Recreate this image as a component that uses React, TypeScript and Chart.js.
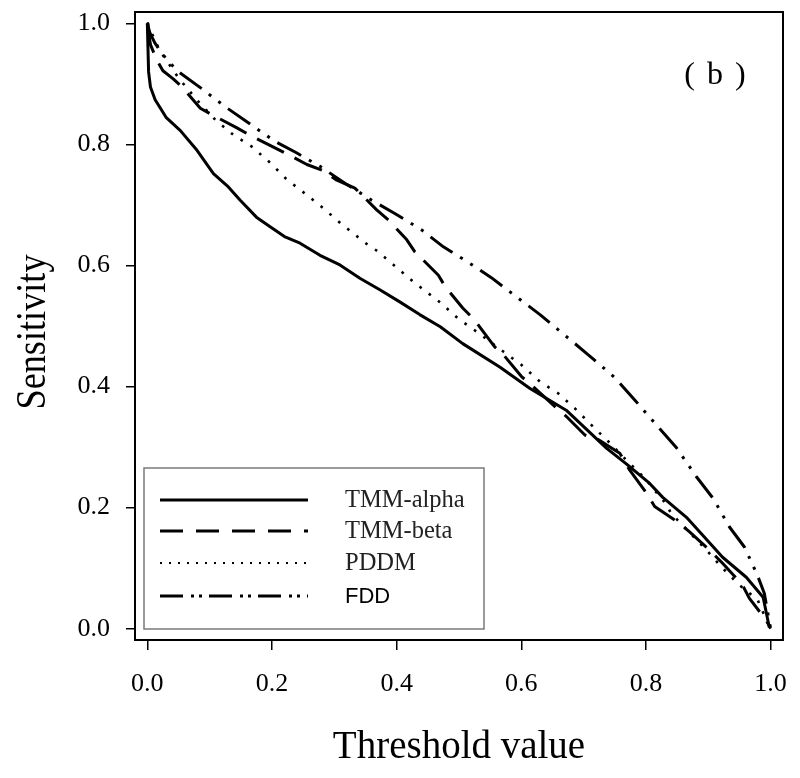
import React, { useEffect, useRef } from "react";
import { Chart, registerables } from "chart.js";

Chart.register(...registerables);

const xTicks = [0, 0.2, 0.4, 0.6, 0.8, 1.0];
const yTicks = [0, 0.2, 0.4, 0.6, 0.8, 1.0];
const seriesLabels = ["TMM-alpha", "TMM-beta", "PDDM", "FDD"];
const xTitle = "Threshold value";
const yTitle = "Sensitivity";
const panelTag = "( b )";

const alphaX = [0, 0.001, 0.002, 0.005, 0.0125, 0.03, 0.053, 0.08, 0.106, 0.13, 0.149, 0.175, 0.197, 0.22, 0.245, 0.277, 0.309, 0.341, 0.373, 0.405, 0.437, 0.47, 0.506, 0.566, 0.614, 0.672, 0.737, 0.769, 0.806, 0.827, 0.865, 0.923, 0.961, 0.988, 0.998];
const alphaY = [1.0, 0.96, 0.92, 0.895, 0.874, 0.845, 0.823, 0.79, 0.752, 0.73, 0.708, 0.68, 0.664, 0.648, 0.637, 0.617, 0.601, 0.579, 0.56, 0.54, 0.519, 0.499, 0.471, 0.432, 0.397, 0.361, 0.298, 0.272, 0.24, 0.217, 0.184, 0.118, 0.085, 0.052, 0.002];

const betaX = [0, 0.005, 0.015, 0.025, 0.041, 0.055, 0.085, 0.106, 0.143, 0.165, 0.2, 0.223, 0.256, 0.282, 0.304, 0.333, 0.368, 0.387, 0.416, 0.429, 0.467, 0.478, 0.506, 0.525, 0.557, 0.571, 0.6, 0.619, 0.654, 0.672, 0.702, 0.724, 0.758, 0.774, 0.801, 0.814, 0.854, 0.87, 0.902, 0.923, 0.955, 0.966, 0.993, 1.0];
const betaY = [1.0, 0.965, 0.94, 0.922, 0.909, 0.896, 0.86, 0.848, 0.828, 0.815, 0.797, 0.785, 0.767, 0.757, 0.741, 0.728, 0.692, 0.675, 0.643, 0.623, 0.584, 0.565, 0.53, 0.51, 0.466, 0.453, 0.417, 0.4, 0.367, 0.351, 0.32, 0.312, 0.29, 0.262, 0.224, 0.202, 0.174, 0.16, 0.13, 0.108, 0.072, 0.05, 0.014, 0.0];

const pddmX = [0, 0.02, 0.05, 0.08, 0.109, 0.138, 0.167, 0.197, 0.224, 0.253, 0.282, 0.31, 0.354, 0.369, 0.427, 0.47, 0.498, 0.528, 0.571, 0.6, 0.63, 0.659, 0.688, 0.715, 0.742, 0.771, 0.798, 0.833, 0.84, 0.897, 0.923, 0.95, 0.979, 0.993, 1.0];
const pddmY = [1.0, 0.955, 0.91, 0.873, 0.841, 0.816, 0.797, 0.77, 0.742, 0.719, 0.695, 0.67, 0.634, 0.624, 0.573, 0.539, 0.513, 0.491, 0.458, 0.436, 0.408, 0.389, 0.362, 0.334, 0.307, 0.276, 0.249, 0.205, 0.191, 0.13, 0.1, 0.072, 0.048, 0.015, 0.0];

const fddX = [0, 0.004, 0.012, 0.023, 0.036, 0.049, 0.085, 0.127, 0.162, 0.205, 0.24, 0.277, 0.317, 0.36, 0.397, 0.44, 0.475, 0.517, 0.552, 0.594, 0.63, 0.672, 0.707, 0.75, 0.782, 0.819, 0.849, 0.881, 0.908, 0.934, 0.958, 0.979, 0.99, 1.0];
const fddY = [1.0, 0.985, 0.968, 0.951, 0.935, 0.921, 0.894, 0.861, 0.836, 0.805, 0.786, 0.764, 0.736, 0.708, 0.686, 0.659, 0.631, 0.604, 0.58, 0.547, 0.519, 0.483, 0.453, 0.415, 0.378, 0.334, 0.299, 0.251, 0.215, 0.168, 0.135, 0.088, 0.058, 0.0];

const pts = (xs: number[], ys: number[]) => xs.map((x, i) => ({ x, y: ys[i] }));

const legendStyles = [
  { dash: [] as number[], width: 3.2 },
  { dash: [23, 13], width: 3 },
  { dash: [2, 7], width: 2 },
  { dash: [23, 8, 3, 5, 3, 7], width: 3.2 },
];

const decorPlugin = {
  id: "decor",
  afterDraw(chart: any) {
    const { ctx, chartArea: a } = chart;
    ctx.save();
    ctx.strokeStyle = "#000";
    ctx.lineWidth = 2;
    ctx.setLineDash([]);
    ctx.strokeRect(a.left, a.top, a.right - a.left, a.bottom - a.top);

    const bx = a.left + 9, by = a.top + 456, bw = 340, bh = 161;
    ctx.fillStyle = "#fff";
    ctx.strokeStyle = "#7a7a7a";
    ctx.lineWidth = 1.5;
    ctx.strokeRect(bx, by, bw, bh);
    const rows = [32, 63, 95, 128];
    chart.data.datasets.forEach((ds: any, i: number) => {
      const y = by + rows[i];
      ctx.beginPath();
      ctx.strokeStyle = "#000";
      ctx.lineWidth = legendStyles[i].width;
      ctx.lineCap = "butt";
      ctx.setLineDash(legendStyles[i].dash);
      ctx.moveTo(bx + 16, y);
      ctx.lineTo(bx + 164, y);
      ctx.stroke();
      ctx.setLineDash([]);
      if (i === 3) {
        ctx.font = "22px 'Liberation Sans', Arial, sans-serif";
        ctx.fillStyle = "#000";
      } else {
        ctx.font = "24.5px 'Liberation Serif', 'Times New Roman', serif";
        ctx.fillStyle = "#222";
      }
      ctx.textAlign = "left";
      ctx.textBaseline = "middle";
      ctx.fillText(ds.label, bx + 201, y + 1);
    });

    ctx.fillStyle = "#000";
    ctx.font = "32px 'Liberation Serif', 'Times New Roman', serif";
    ctx.textAlign = "center";
    ctx.textBaseline = "alphabetic";
    try { (ctx as any).letterSpacing = "2px"; } catch (e) {}
    ctx.fillText(panelTag, 716, 84);
    try { (ctx as any).letterSpacing = "0px"; } catch (e) {}

    ctx.font = "39px 'Liberation Serif', 'Times New Roman', serif";
    ctx.textAlign = "center";
    ctx.textBaseline = "alphabetic";
    ctx.fillText(xTitle, (a.left + a.right) / 2, 758);

    ctx.font = "43px 'Liberation Serif', 'Times New Roman', serif";
    const w = ctx.measureText(yTitle).width;
    ctx.translate(45, 332);
    ctx.rotate(-Math.PI / 2);
    ctx.scale(155 / w, 1);
    ctx.textAlign = "center";
    ctx.fillText(yTitle, 0, 0);
    ctx.restore();
  },
};

export default function App() {
  const ref = useRef<HTMLCanvasElement | null>(null);
  useEffect(() => {
    document.body.style.margin = "0";
    const canvas = ref.current;
    if (!canvas) return;
    const base = {
      showLine: true,
      pointRadius: 0,
      borderColor: "#000",
      backgroundColor: "#000",
      fill: false,
      tension: 0,
      borderCapStyle: "butt" as const,
      borderJoinStyle: "round" as const,
    };
    const chart = new Chart(canvas, {
      type: "scatter",
      data: {
        datasets: [
          { ...base, label: seriesLabels[0], data: pts(alphaX, alphaY), borderWidth: 3 },
          { ...base, label: seriesLabels[1], data: pts(betaX, betaY), borderWidth: 3, borderDash: [30, 12] },
          { ...base, label: seriesLabels[2], data: pts(pddmX, pddmY), borderWidth: 2.6, borderDash: [2.6, 9] },
          { ...base, label: seriesLabels[3], data: pts(fddX, fddY), borderWidth: 3, borderDash: [27, 9, 3, 9, 3, 9] },
        ],
      },
      options: {
        responsive: false,
        animation: false,
        devicePixelRatio: 1,
        layout: { padding: { top: 12, right: 17, left: 0, bottom: 0 } },
        plugins: { legend: { display: false }, tooltip: { enabled: false }, title: { display: false } },
        scales: {
          x: {
            type: "linear",
            min: -0.0198,
            max: 1.0199,
            afterFit: (s: any) => { s.height = 138; s.paddingLeft = 0; s.paddingRight = 0; },
            afterBuildTicks: (s: any) => { s.ticks = xTicks.map((v) => ({ value: v })); },
            border: { display: false },
            grid: { display: true, drawOnChartArea: false, drawTicks: true, tickLength: 10, color: "#000", lineWidth: 1.5 },
            ticks: {
              color: "#000",
              padding: 19,
              maxRotation: 0,
              autoSkip: false,
              font: { family: "'Liberation Serif', 'Times New Roman', serif", size: 26 },
              callback: (v: any) => Number(v).toFixed(1),
            },
          },
          y: {
            type: "linear",
            min: -0.0187,
            max: 1.019,
            afterFit: (s: any) => { s.width = 135; s.paddingTop = 0; s.paddingBottom = 0; },
            afterBuildTicks: (s: any) => { s.ticks = yTicks.map((v) => ({ value: v })); },
            border: { display: false },
            grid: { display: true, drawOnChartArea: false, drawTicks: true, tickLength: 9, color: "#000", lineWidth: 1.5 },
            ticks: {
              color: "#000",
              padding: 16,
              autoSkip: false,
              font: { family: "'Liberation Serif', 'Times New Roman', serif", size: 26 },
              callback: (v: any) => Number(v).toFixed(1),
            },
          },
        },
      },
      plugins: [decorPlugin],
    });
    return () => chart.destroy();
  }, []);
  return (
    <div style={{ position: "absolute", left: 0, top: 0, width: 800, height: 778, background: "#fff" }}>
      <canvas ref={ref} width={800} height={778} style={{ width: 800, height: 778, display: "block" }} />
    </div>
  );
}
